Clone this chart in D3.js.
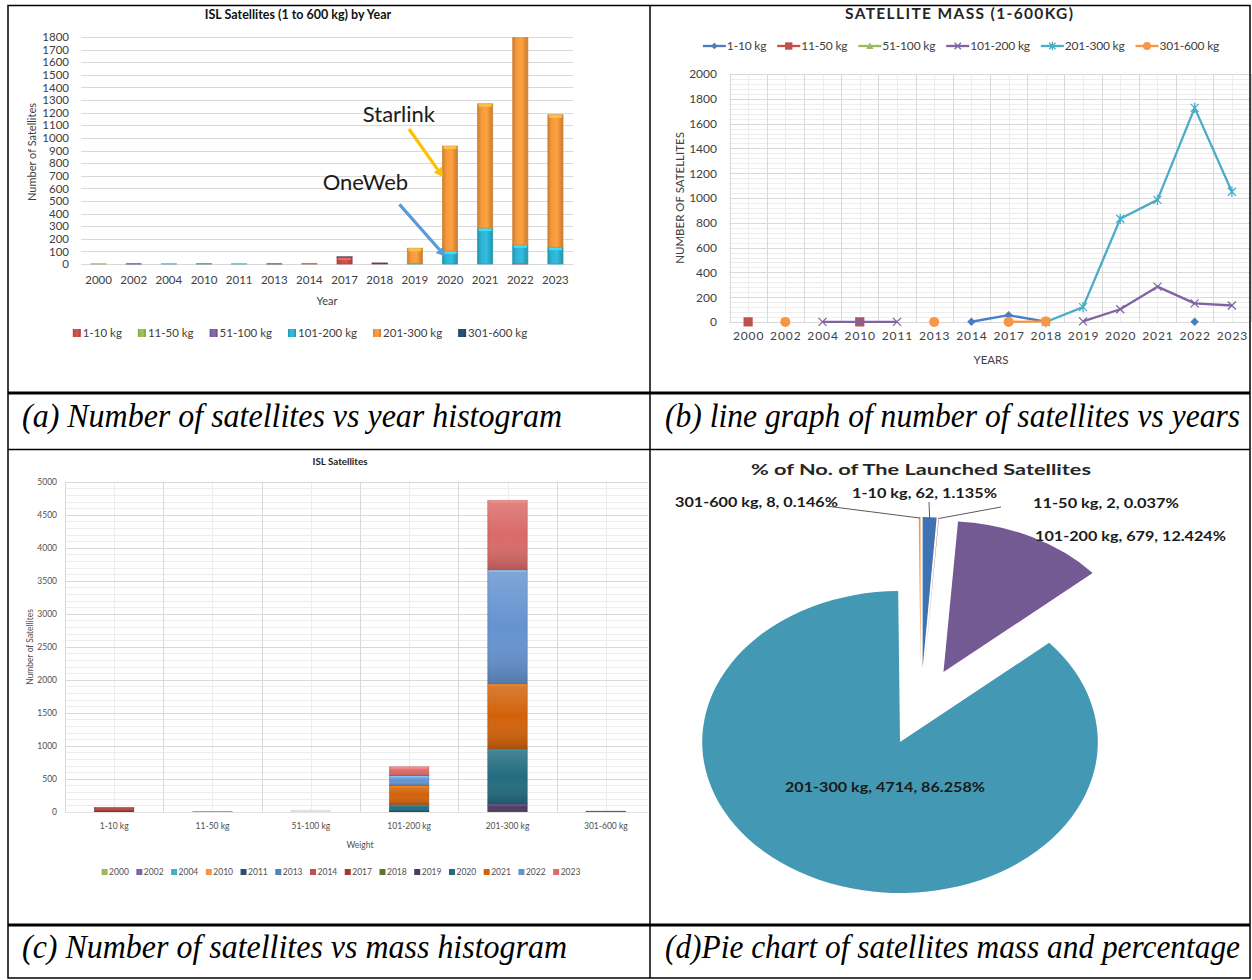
<!DOCTYPE html>
<html>
<head>
<meta charset="utf-8">
<title>ISL satellites by year and mass</title>
<script src="https://cdn.jsdelivr.net/npm/d3@7"></script>
<style>
  html, body { margin: 0; padding: 0; background: #fff; }
  svg { display: block; }
  text { font-family: Lato, "Open Sans", sans-serif; }
  text.caption { font-family: "Times New Roman", "Liberation Serif", Tinos, Times, serif; font-style: italic; }
</style>
</head>
<body>
<svg id="fig" width="1252" height="980"></svg>
<script>
// ---------------- data ----------------
const years = ["2000", "2002", "2004", "2010", "2011", "2013", "2014",
               "2017", "2018", "2019", "2020", "2021", "2022", "2023"];
const massClasses = ["1-10 kg", "11-50 kg", "51-100 kg", "101-200 kg", "201-300 kg", "301-600 kg"];

// satellites launched per year for each mass class (null = none recorded)
const kg1to10    = [null, null, null, null, null, null, 2, 55, 3, null, null, null, 2, null];
const kg11to50   = [1, null, null, 1, null, null, null, null, null, null, null, null, null, null];
const kg51to100  = [null, null, null, null, null, null, null, null, null, null, null, null, null, null];
const kg101to200 = [null, null, 1, 1, 1, null, null, null, null, 5, 103, 285, 150, 133];
const kg201to300 = [null, null, null, null, null, null, null, null, 0, 120, 832, 985, 1727, 1050];
const kg301to600 = [null, 1, null, null, null, 1, null, 1, 5, null, null, null, null, null];

// share of launched satellites (pie)
const pieClasses = ["1-10 kg", "11-50 kg", "101-200 kg", "201-300 kg", "301-600 kg"];
const pieCounts  = [62, 2, 679, 4714, 8];
const pieShares  = ["1.135%", "0.037%", "12.424%", "86.258%", "0.146%"];

// axis ticks
const ticksYearChart = [0, 100, 200, 300, 400, 500, 600, 700, 800, 900, 1000,
                        1100, 1200, 1300, 1400, 1500, 1600, 1700, 1800];
const ticksLineChart = [0, 200, 400, 600, 800, 1000, 1200, 1400, 1600, 1800, 2000];
const ticksMassChart = [0, 500, 1000, 1500, 2000, 2500, 3000, 3500, 4000, 4500, 5000];

const captions = [
  "(a) Number of satellites vs year histogram",
  "(b) line graph of number of satellites vs years",
  "(c) Number of satellites vs mass histogram",
  "(d)Pie chart of satellites mass and percentage"
];

const byClass = [kg1to10, kg11to50, kg51to100, kg101to200, kg201to300, kg301to600];

// ---------------- styles ----------------
const barColors  = ["#C9504C", "#9BBB59", "#8064A2", "#2FB3D4", "#F5993C", "#2C4D75"];
const lineColors = ["#4A7EC0", "#C0504D", "#9BBB59", "#8064A2", "#4BACC6", "#F79646"];
const lineMarkers = ["diamond", "square", "triangle", "x", "asterisk", "circle"];
const yearColors = ["#9BBB59", "#8064A2", "#4BACC6", "#F79646", "#2C4D75", "#4F81BD", "#C0504D",
                    "#A33834", "#5F7530", "#4D3B62", "#236C80", "#D2620A", "#6593D0", "#D96A68"];
const pieColors  = ["#3E72B0", "#C0504D", "#735A92", "#4399B3", "#F79646"];

const svg = d3.select("#fig");
const defs = svg.append("defs");
const grid1 = "#D9D9D9", grid2 = "#EDEDED", labelColor = "#404040";
const crisp = v => Math.round(v) + 0.5;
const plain = d3.format("d");

// ================= (a) stacked bars by year =================
{
  const g = svg.append("g");
  const P = { x0: 81, x1: 573, y0: 37, y1: 264 };
  const x = d3.scaleBand().domain(years).range([P.x0, P.x1]).paddingInner(0.57).paddingOuter(0.285);
  const y = d3.scaleLinear().domain([0, 1800]).range([P.y1, P.y0]);

  g.append("text").attr("x", 298).attr("y", 19).attr("text-anchor", "middle")
    .attr("font-weight", "bold").attr("font-size", 12.5).attr("fill", "#111")
    .text("ISL Satellites (1 to 600 kg) by Year");

  g.append("g").selectAll("line").data(ticksYearChart).join("line")
    .attr("x1", P.x0).attr("x2", P.x1)
    .attr("y1", d => crisp(y(d))).attr("y2", d => crisp(y(d)))
    .attr("stroke", grid1).attr("stroke-width", 1);

  const ay = g.append("g").attr("transform", "translate(69,0)")
    .call(d3.axisLeft(y).tickValues(ticksYearChart).tickFormat(plain).tickSize(0).tickPadding(0));
  ay.select(".domain").remove();
  ay.selectAll("text").attr("font-size", 11.5).attr("fill", labelColor);

  const ax = g.append("g").attr("transform", `translate(0,${P.y1})`)
    .call(d3.axisBottom(x).tickSize(0).tickPadding(12));
  ax.select(".domain").remove();
  ax.selectAll("text").attr("font-size", 11.5).attr("fill", labelColor);

  g.append("text").attr("transform", "translate(36,152) rotate(-90)").attr("text-anchor", "middle")
    .attr("font-size", 11).attr("fill", labelColor).text("Number of Satellites");
  g.append("text").attr("x", 327).attr("y", 305).attr("text-anchor", "middle")
    .attr("font-size", 11).attr("fill", labelColor).text("Year");

  // bevelled fills
  barColors.forEach((c, k) => {
    const gr = defs.append("linearGradient").attr("id", "bevA" + k).attr("x1", 0).attr("x2", 1).attr("y1", 0).attr("y2", 0);
    gr.append("stop").attr("offset", 0).attr("stop-color", d3.color(c).darker(0.55));
    gr.append("stop").attr("offset", 0.25).attr("stop-color", c);
    gr.append("stop").attr("offset", 0.6).attr("stop-color", d3.color(c).brighter(0.15));
    gr.append("stop").attr("offset", 1).attr("stop-color", d3.color(c).darker(0.6));
  });
  defs.append("clipPath").attr("id", "clipA").append("rect")
    .attr("x", P.x0).attr("y", P.y0).attr("width", P.x1 - P.x0).attr("height", P.y1 - P.y0 + 1);

  const rows = years.map((yr, i) => {
    const r = { year: yr };
    massClasses.forEach((c, j) => { r[c] = byClass[j][i] ?? 0; });
    return r;
  });
  const stacked = d3.stack().keys(massClasses)(rows);
  const bars = g.append("g").attr("clip-path", "url(#clipA)");
  stacked.forEach((s, k) => {
    const seg = bars.append("g").selectAll("g").data(s.filter(d => d[1] - d[0] > 0)).join("g");
    seg.append("rect")
      .attr("x", d => x(d.data.year)).attr("width", x.bandwidth())
      .attr("y", d => y(d[1])).attr("height", d => y(d[0]) - y(d[1]))
      .attr("fill", `url(#bevA${k})`)
      .attr("stroke", d3.color(barColors[k]).darker(0.4)).attr("stroke-width", 0.8);
    seg.append("rect")
      .attr("x", d => x(d.data.year) + 1).attr("width", x.bandwidth() - 2)
      .attr("y", d => y(d[1])).attr("height", d => Math.min(3, y(d[0]) - y(d[1])))
      .attr("fill", d3.color(barColors[k]).brighter(0.7)).attr("opacity", 0.85);
  });

  // call-outs
  const arrows = [
    { text: "Starlink", color: "#FFC000", tip: [x("2020") + 0.5, y(690)], from: [-34, -48], label: [-44, -55] },
    { text: "OneWeb", color: "#5B9BD5", tip: [x("2020") + 3, y(60)], from: [-46, -52], label: [-80, -66] }
  ];
  arrows.forEach(a => {
    const [tx, ty] = a.tip;
    const sx = tx + a.from[0], sy = ty + a.from[1];
    const ang = Math.atan2(ty - sy, tx - sx);
    const hl = 9, hw = 5;
    const bx = tx - hl * Math.cos(ang), by = ty - hl * Math.sin(ang);
    g.append("line").attr("x1", sx).attr("y1", sy).attr("x2", bx).attr("y2", by)
      .attr("stroke", a.color).attr("stroke-width", 3.2);
    g.append("path")
      .attr("d", `M${tx},${ty}L${bx + hw * Math.sin(ang)},${by - hw * Math.cos(ang)}L${bx - hw * Math.sin(ang)},${by + hw * Math.cos(ang)}Z`)
      .attr("fill", a.color);
    g.append("text").attr("x", tx + a.label[0]).attr("y", ty + a.label[1]).attr("text-anchor", "middle")
      .attr("font-size", 22).attr("fill", "#1a1a1a").text(a.text);
  });

  // legend
  const leg = g.append("g");
  let cx = 0;
  massClasses.forEach((c, k) => {
    const it = leg.append("g").attr("transform", `translate(${cx},0)`);
    it.append("rect").attr("x", 0).attr("y", -4).attr("width", 8).attr("height", 8).attr("fill", `url(#bevA${k})`);
    const t = it.append("text").attr("x", 10).attr("y", 4).attr("font-size", 11.5).attr("fill", labelColor).text(c);
    cx += 10 + t.node().getComputedTextLength() + 16;
  });
  cx -= 16;
  leg.attr("transform", `translate(${300 - cx / 2},333)`);
}

// ================= (b) line chart =================
{
  const g = svg.append("g");
  const P = { x0: 729.5, x1: 1250.5, y0: 74, y1: 322 };
  const x = d3.scalePoint().domain(years).range([P.x0, P.x1]).padding(0.5);
  const y = d3.scaleLinear().domain([0, 2000]).range([P.y1, P.y0]);
  const step = x.step();

  g.append("text").attr("x", 959).attr("y", 19).attr("text-anchor", "middle")
    .attr("font-weight", "bold").attr("font-size", 15.5).attr("fill", "#262626")
    .attr("textLength", 228).attr("lengthAdjust", "spacing")
    .text("SATELLITE  MASS (1-600KG)");

  // minor + major grid
  const minor = d3.range(0, 2001, 40).filter(v => v % 200 !== 0);
  g.append("g").selectAll("line").data(minor).join("line")
    .attr("x1", P.x0).attr("x2", P.x1).attr("y1", d => crisp(y(d))).attr("y2", d => crisp(y(d)))
    .attr("stroke", grid2);
  g.append("g").selectAll("line").data(years).join("line")
    .attr("x1", d => crisp(x(d))).attr("x2", d => crisp(x(d))).attr("y1", P.y0).attr("y2", P.y1)
    .attr("stroke", grid2);
  g.append("g").selectAll("line").data(d3.range(years.length + 1)).join("line")
    .attr("x1", i => crisp(P.x0 + i * step)).attr("x2", i => crisp(P.x0 + i * step)).attr("y1", P.y0).attr("y2", P.y1)
    .attr("stroke", grid1);
  g.append("g").selectAll("line").data(ticksLineChart).join("line")
    .attr("x1", P.x0).attr("x2", P.x1).attr("y1", d => crisp(y(d))).attr("y2", d => crisp(y(d)))
    .attr("stroke", grid1);

  const ay = g.append("g").attr("transform", "translate(717,0)")
    .call(d3.axisLeft(y).tickValues(ticksLineChart).tickFormat(plain).tickSize(0).tickPadding(0));
  ay.select(".domain").remove();
  ay.selectAll("text").attr("font-size", 12).attr("fill", labelColor);

  const ax = g.append("g").attr("transform", `translate(0,${P.y1})`)
    .call(d3.axisBottom(x).tickSize(0).tickPadding(9));
  ax.select(".domain").remove();
  ax.selectAll("text").attr("font-size", 12).attr("fill", labelColor)
    .attr("letter-spacing", 0.9);

  g.append("text").attr("transform", "translate(684,198) rotate(-90)").attr("text-anchor", "middle")
    .attr("font-size", 11.5).attr("fill", labelColor).text("NUMBER OF SATELLITES");
  g.append("text").attr("x", 991).attr("y", 364).attr("text-anchor", "middle")
    .attr("font-size", 11.5).attr("fill", labelColor).text("YEARS");

  function marker(sel, shape, color, s) {
    switch (shape) {
      case "diamond":
        sel.append("path").attr("d", `M0,${-s}L${s},0L0,${s}L${-s},0Z`).attr("fill", color); break;
      case "square":
        sel.append("rect").attr("x", -s).attr("y", -s).attr("width", 2 * s).attr("height", 2 * s).attr("fill", color); break;
      case "triangle":
        sel.append("path").attr("d", `M0,${-s}L${s},${s * 0.8}L${-s},${s * 0.8}Z`).attr("fill", color); break;
      case "x":
        sel.append("path").attr("d", `M${-s},${-s}L${s},${s}M${-s},${s}L${s},${-s}`)
          .attr("stroke", color).attr("stroke-width", 1.3).attr("fill", "none"); break;
      case "asterisk":
        sel.append("path").attr("d", `M${-s},${-s}L${s},${s}M${-s},${s}L${s},${-s}M0,${-s * 1.3}L0,${s * 1.3}`)
          .attr("stroke", color).attr("stroke-width", 1.3).attr("fill", "none"); break;
      case "circle":
        sel.append("circle").attr("r", s).attr("fill", color); break;
    }
  }
  const mSize = { diamond: 4.2, square: 4.6, triangle: 4.5, x: 4, asterisk: 4, circle: 5 };

  const line = d3.line().defined(d => d.v != null).x(d => x(d.year)).y(d => y(d.v));
  byClass.forEach((vals, k) => {
    const pts = years.map((yr, i) => ({ year: yr, v: vals[i] }));
    g.append("path").datum(pts).attr("d", line).attr("fill", "none")
      .attr("stroke", lineColors[k]).attr("stroke-width", 2.3).attr("stroke-linejoin", "round");
    pts.filter(d => d.v != null).forEach(d => {
      const m = g.append("g").attr("transform", `translate(${x(d.year)},${y(d.v)})`);
      marker(m, lineMarkers[k], lineColors[k], mSize[lineMarkers[k]]);
    });
  });

  // legend
  const leg = g.append("g");
  let cx = 0;
  massClasses.forEach((c, k) => {
    const it = leg.append("g").attr("transform", `translate(${cx},0)`);
    it.append("line").attr("x1", 0).attr("x2", 23).attr("y1", 0).attr("y2", 0)
      .attr("stroke", lineColors[k]).attr("stroke-width", 2.3);
    const m = it.append("g").attr("transform", "translate(11.5,0)");
    marker(m, lineMarkers[k], lineColors[k], mSize[lineMarkers[k]] * 0.8);
    const t = it.append("text").attr("x", 24).attr("y", 4).attr("font-size", 12).attr("fill", labelColor)
      .attr("letter-spacing", -0.2).text(c);
    cx += 24 + t.node().getComputedTextLength() + 11;
  });
  cx -= 11;
  leg.attr("transform", `translate(${961 - cx / 2},46)`);
}

// ================= (c) stacked bars by mass =================
{
  const g = svg.append("g");
  const P = { x0: 65, x1: 655, y0: 481.7, y1: 811.7, clipX: 648 };
  const x = d3.scaleBand().domain(massClasses).range([P.x0, P.x1]).paddingInner(0.6).paddingOuter(0.3);
  const y = d3.scaleLinear().domain([0, 5000]).range([P.y1, P.y0]);
  const step = x.step();

  defs.append("clipPath").attr("id", "clipC").append("rect")
    .attr("x", P.x0).attr("y", P.y0 - 1).attr("width", P.clipX - P.x0).attr("height", P.y1 - P.y0 + 2);
  const plot = g.append("g").attr("clip-path", "url(#clipC)");

  g.append("text").attr("x", 340).attr("y", 464.5).attr("text-anchor", "middle")
    .attr("font-weight", "bold").attr("font-size", 10).attr("fill", "#222")
    .attr("textLength", 55).attr("lengthAdjust", "spacingAndGlyphs").text("ISL Satellites");

  const minor = d3.range(0, 5001, 100).filter(v => v % 500 !== 0);
  plot.append("g").selectAll("line").data(minor).join("line")
    .attr("x1", P.x0).attr("x2", P.x1).attr("y1", d => crisp(y(d))).attr("y2", d => crisp(y(d)))
    .attr("stroke", grid2);
  plot.append("g").selectAll("line").data(massClasses).join("line")
    .attr("x1", d => crisp(x(d) + x.bandwidth() / 2)).attr("x2", d => crisp(x(d) + x.bandwidth() / 2))
    .attr("y1", P.y0).attr("y2", P.y1).attr("stroke", grid2);
  plot.append("g").selectAll("line").data(d3.range(massClasses.length + 1)).join("line")
    .attr("x1", i => crisp(P.x0 + i * step)).attr("x2", i => crisp(P.x0 + i * step))
    .attr("y1", P.y0).attr("y2", P.y1).attr("stroke", grid1);
  plot.append("g").selectAll("line").data(ticksMassChart).join("line")
    .attr("x1", P.x0).attr("x2", P.x1).attr("y1", d => crisp(y(d))).attr("y2", d => crisp(y(d)))
    .attr("stroke", grid1);

  const ay = g.append("g").attr("transform", "translate(57,0)")
    .call(d3.axisLeft(y).tickValues(ticksMassChart).tickFormat(plain).tickSize(0).tickPadding(0));
  ay.select(".domain").remove();
  ay.selectAll("text").attr("font-size", 8.5).attr("fill", "#505050");

  const ax = g.append("g").attr("transform", `translate(0,${P.y1})`)
    .call(d3.axisBottom(x).tickSize(0).tickPadding(11));
  ax.select(".domain").remove();
  ax.selectAll("text").attr("font-size", 8.5).attr("fill", "#505050");

  g.append("text").attr("transform", "translate(33,647) rotate(-90)").attr("text-anchor", "middle")
    .attr("font-size", 8.5).attr("fill", "#505050").text("Number of Satellites");
  g.append("text").attr("x", 360).attr("y", 848).attr("text-anchor", "middle")
    .attr("font-size", 8.5).attr("fill", "#505050").text("Weight");

  const shadeC = defs.append("linearGradient").attr("id", "shadeC").attr("x1", 0).attr("x2", 0).attr("y1", 0).attr("y2", 1);
  shadeC.append("stop").attr("offset", 0).attr("stop-color", "#fff").attr("stop-opacity", 0.18);
  shadeC.append("stop").attr("offset", 0.5).attr("stop-color", "#fff").attr("stop-opacity", 0);
  shadeC.append("stop").attr("offset", 1).attr("stop-color", "#000").attr("stop-opacity", 0.18);

  const rows = massClasses.map((c, j) => {
    const r = { cls: c };
    years.forEach((yr, i) => { r[yr] = byClass[j][i] ?? 0; });
    return r;
  });
  const stacked = d3.stack().keys(years)(rows);
  stacked.forEach((s, k) => {
    const seg = plot.append("g").selectAll("g").data(s.filter(d => d[1] - d[0] > 0)).join("g");
    seg.append("rect")
      .attr("x", d => x(d.data.cls)).attr("width", x.bandwidth())
      .attr("y", d => y(d[1])).attr("height", d => y(d[0]) - y(d[1]))
      .attr("fill", yearColors[k])
      .attr("stroke", d3.color(yearColors[k]).darker(0.5)).attr("stroke-width", 0.6);
    seg.append("rect")
      .attr("x", d => x(d.data.cls)).attr("width", x.bandwidth())
      .attr("y", d => y(d[1])).attr("height", d => y(d[0]) - y(d[1]))
      .attr("fill", "url(#shadeC)");
    seg.append("rect")
      .attr("x", d => x(d.data.cls) + 1).attr("width", x.bandwidth() - 2)
      .attr("y", d => y(d[1])).attr("height", d => Math.min(1.8, y(d[0]) - y(d[1])))
      .attr("fill", d3.color(yearColors[k]).brighter(0.9)).attr("opacity", 0.8);
  });
  // empty classes still show a flat outline on the baseline
  plot.append("g").selectAll("rect").data(rows.filter(r => years.every(yr => r[yr] === 0))).join("rect")
    .attr("x", d => x(d.cls)).attr("width", x.bandwidth()).attr("y", P.y1 - 1.5).attr("height", 1.5)
    .attr("fill", "#f2f2f2").attr("stroke", "#d0d0d0").attr("stroke-width", 0.6);

  // legend
  const leg = g.append("g");
  let cx = 0;
  years.forEach((yr, k) => {
    const it = leg.append("g").attr("transform", `translate(${cx},0)`);
    it.append("rect").attr("x", 0).attr("y", -3).attr("width", 6).attr("height", 6).attr("fill", yearColors[k]);
    const t = it.append("text").attr("x", 7.5).attr("y", 3.2).attr("font-size", 8.5).attr("fill", "#505050").text(yr);
    cx += 7.5 + t.node().getComputedTextLength() + 7.5;
  });
  cx -= 7.5;
  leg.attr("transform", `translate(${341 - cx / 2},872)`);
}

// ================= (d) exploded pie =================
{
  const g = svg.append("g");
  const R = 151, stretch = 1.31, explode = 38.7;
  const C = [920.8, 706.7];
  const arcs = d3.pie().sort(null).value(d => d)(pieCounts);
  const arc = d3.arc().innerRadius(0).outerRadius(R);

  g.append("text").attr("x", 921).attr("y", 475).attr("text-anchor", "middle")
    .attr("font-weight", "bold").attr("font-size", 15.5).attr("fill", "#262626")
    .attr("textLength", 340).attr("lengthAdjust", "spacingAndGlyphs")
    .text("% of No. of The Launched Satellites");

  const pie = g.append("g").attr("transform", `translate(${C[0]},${C[1]}) scale(${stretch},1)`);
  const mid = a => (a.startAngle + a.endAngle) / 2;
  pie.selectAll("path").data(arcs).join("path")
    .attr("transform", a => `translate(${explode * Math.sin(mid(a))},${-explode * Math.cos(mid(a))})`)
    .attr("d", arc)
    .attr("fill", (a, i) => pieColors[i]);

  // outer point of each slice (page coordinates)
  const rim = a => [C[0] + stretch * (explode + R) * Math.sin(mid(a)),
                    C[1] - (explode + R) * Math.cos(mid(a))];

  const label = i => `${pieClasses[i]}, ${pieCounts[i]}, ${pieShares[i]}`;
  const labels = [
    { i: 0, x: 852, y: 498, w: 145, lead: [929, 502] },
    { i: 1, x: 1033, y: 508, w: 146, lead: [1001, 507] },
    { i: 2, x: 1035, y: 541, w: 191, lead: null },
    { i: 3, x: 785, y: 792, w: 200, lead: null },
    { i: 4, x: 675, y: 507, w: 163, lead: [826, 506] }
  ];
  labels.forEach(L => {
    g.append("text").attr("x", L.x).attr("y", L.y).attr("font-weight", "bold").attr("font-size", 13.5)
      .attr("fill", "#1a1a1a").attr("textLength", L.w).attr("lengthAdjust", "spacingAndGlyphs")
      .text(label(L.i));
    if (L.lead) {
      const p = rim(arcs[L.i]);
      g.append("line").attr("x1", L.lead[0]).attr("y1", L.lead[1]).attr("x2", p[0]).attr("y2", p[1] + 1)
        .attr("stroke", "#595959").attr("stroke-width", 1);
    }
  });
}

// ================= table frame & captions =================
{
  const g = svg.append("g").attr("stroke", "#000").attr("fill", "none");
  g.append("rect").attr("x", 8).attr("y", 5.5).attr("width", 1242).attr("height", 972.5).attr("stroke-width", 1.5);
  g.append("line").attr("x1", 650).attr("x2", 650).attr("y1", 5).attr("y2", 978).attr("stroke-width", 1.5);
  g.append("line").attr("x1", 8).attr("x2", 1250).attr("y1", 393).attr("y2", 393).attr("stroke-width", 3);
  g.append("line").attr("x1", 8).attr("x2", 1250).attr("y1", 449.5).attr("y2", 449.5).attr("stroke-width", 1.5);
  g.append("line").attr("x1", 8).attr("x2", 1250).attr("y1", 925).attr("y2", 925).attr("stroke-width", 3);

  // captions: tall, slightly condensed italic serif
  const pos = [[22, 427, 540], [665, 427, 575], [22, 958, 545], [665, 958, 575]];
  captions.forEach((c, i) => {
    svg.append("g").attr("transform", `translate(${pos[i][0]},${pos[i][1]}) scale(1,1.14)`)
      .append("text").attr("class", "caption").attr("x", 0).attr("y", 0)
      .attr("font-size", 29).attr("fill", "#000")
      .attr("textLength", pos[i][2]).attr("lengthAdjust", "spacingAndGlyphs")
      .text(c);
  });
}
</script>
</body>
</html>
